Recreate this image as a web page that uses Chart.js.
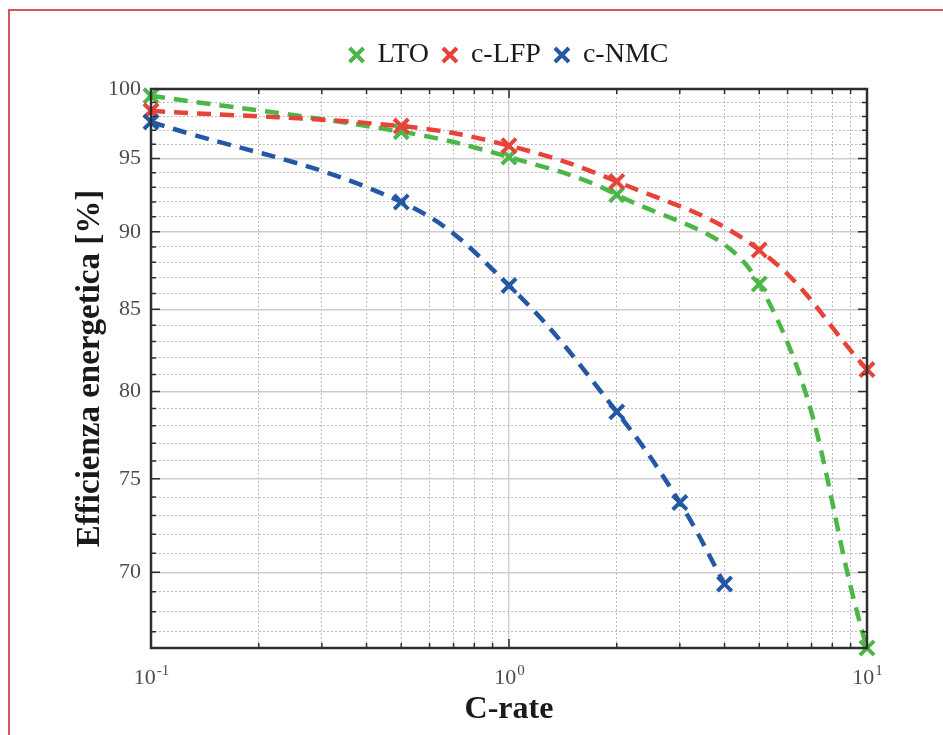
<!DOCTYPE html>
<html>
<head>
<meta charset="utf-8">
<script src="https://cdn.jsdelivr.net/npm/chart.js@4.4.1/dist/chart.umd.min.js"></script>
<style>
  html, body { margin: 0; padding: 0; background: #fff; overflow: hidden; }
  #wrap { position: relative; width: 943px; height: 735px; }
  #myChart { display: block; }
  #frame { position: absolute; left: 8px; top: 9px; width: 980px; height: 780px;
           border-top: 2px solid #d9555d; border-left: 2px solid #d9555d; pointer-events: none; }
</style>
</head>
<body>
<div id="wrap">
  <canvas id="myChart" width="943" height="735"></canvas>
  <div id="frame"></div>
</div>
<script>
// data
const cRateLTO = [0.1, 0.5, 1, 2, 5, 10];
const effLTO = [99.5, 96.9, 95.1, 92.5, 86.6, 66.2];
const cRateLFP = [0.1, 0.5, 1, 2, 5, 10];
const effLFP = [98.4, 97.3, 95.9, 93.4, 88.8, 81.3];
const cRateNMC = [0.1, 0.5, 1, 2, 3, 4];
const effNMC = [97.6, 92.0, 86.5, 78.8, 73.7, 69.4];

const seriesNames = ['LTO', 'c-LFP', 'c-NMC'];
const seriesColors = ['#4db648', '#e8433b', '#2458a6'];

// axis ticks
const xTickVals = [0.1, 0.2, 0.3, 0.4, 0.5, 0.6, 0.7, 0.8, 0.9, 1, 2, 3, 4, 5, 6, 7, 8, 9, 10];
const xMajorVals = [0.1, 1, 10];
const xLabelExp = ['-1', '0', '1'];
const yTickVals = [67, 68, 69, 70, 71, 72, 73, 74, 75, 76, 77, 78, 79, 80, 81, 82, 83, 84,
                   85, 86, 87, 88, 89, 90, 91, 92, 93, 94, 95, 96, 97, 98, 99, 100];
const yMajorVals = [70, 75, 80, 85, 90, 95, 100];
const yMin = 66.2;
const yMax = 100;

const serif = "'Liberation Serif', 'Times New Roman', serif";

function pts(xs, ys) {
    return xs.map((x, i) => ({x: x, y: ys[i]}));
}

function makeSet(i, xs, ys, order) {
    return {
        label: seriesNames[i],
        data: pts(xs, ys),
        order: order,
        borderColor: seriesColors[i],
        backgroundColor: seriesColors[i],
        borderWidth: 4.5,
        borderDash: [14, 9],
        tension: 0.4,
        fill: false,
        clip: false,
        pointStyle: 'crossRot',
        pointRadius: 10,
        pointHoverRadius: 10,
        pointBorderWidth: 4,
        pointBorderColor: seriesColors[i]
    };
}

function xTicks(scale) {
    scale.ticks = xTickVals.map(v => ({value: v, major: xMajorVals.includes(v)}));
}
function yTicks(scale) {
    scale.ticks = yTickVals.map(v => ({value: v, major: yMajorVals.includes(v)}));
}

// inward ticks, frame and the 10^n labels
const framePlugin = {
    id: 'framePlugin',
    beforeLayout(chart) {
        const lg = chart.legend;
        if (lg && !lg._extraGap) {
            const fit = lg.fit;
            lg.fit = function () { fit.call(this); this.height += 10; };
            lg._extraGap = true;
        }
    },
    afterDraw(chart) {
        const ctx = chart.ctx;
        const {left, right, top, bottom} = chart.chartArea;
        const xs = chart.scales.x;
        const ys = chart.scales.y;
        ctx.save();
        ctx.strokeStyle = '#2e2e2e';
        ctx.lineWidth = 1.5;
        ctx.beginPath();
        xTickVals.forEach(v => {
            const px = xs.getPixelForValue(v);
            const len = xMajorVals.includes(v) ? 9 : 5;
            ctx.moveTo(px, bottom); ctx.lineTo(px, bottom - len);
            ctx.moveTo(px, top); ctx.lineTo(px, top + len);
        });
        yTickVals.forEach(v => {
            const py = ys.getPixelForValue(v);
            const len = yMajorVals.includes(v) ? 9 : 5;
            ctx.moveTo(left, py); ctx.lineTo(left + len, py);
            ctx.moveTo(right, py); ctx.lineTo(right - len, py);
        });
        ctx.stroke();
        ctx.lineWidth = 2.5;
        ctx.strokeRect(left, top, right - left, bottom - top);

        ctx.fillStyle = '#4d4d4d';
        ctx.textBaseline = 'alphabetic';
        ctx.textAlign = 'left';
        xMajorVals.forEach((v, i) => {
            const px = xs.getPixelForValue(v);
            ctx.font = '22px ' + serif;
            const wb = ctx.measureText('10').width;
            ctx.font = '15px ' + serif;
            const we = ctx.measureText(xLabelExp[i]).width;
            const x0 = px - (wb + we) / 2;
            ctx.font = '22px ' + serif;
            ctx.fillText('10', x0, 684);
            ctx.font = '15px ' + serif;
            ctx.fillText(xLabelExp[i], x0 + wb + 1, 675);
        });
        ctx.restore();
    }
};

const ctx = document.getElementById('myChart').getContext('2d');
const myChart = new Chart(ctx, {
    type: 'line',
    data: {
        datasets: [
            makeSet(0, cRateLTO, effLTO, 3),
            makeSet(1, cRateLFP, effLFP, 2),
            makeSet(2, cRateNMC, effNMC, 1)
        ]
    },
    options: {
        responsive: false,
        devicePixelRatio: 1,
        animation: false,
        events: [],
        layout: { padding: { top: 27, right: 76, left: 0, bottom: 0 } },
        plugins: {
            tooltip: { enabled: false },
            legend: {
                position: 'top',
                fullSize: false,
                align: 'center',
                labels: {
                    usePointStyle: true,
                    boxWidth: 14,
                    boxHeight: 14,
                    padding: 14,
                    color: '#1a1a1a',
                    font: { family: serif, size: 28 },
                    sort: (a, b) => a.datasetIndex - b.datasetIndex
                }
            }
        },
        scales: {
            x: {
                type: 'logarithmic',
                position: 'bottom',
                min: 0.1,
                max: 10,
                afterBuildTicks: xTicks,
                afterFit: s => { s.height = 87; },
                ticks: { display: false },
                border: { display: false },
                grid: {
                    drawTicks: false,
                    lineWidth: 1.4,
                    color: c => (c.tick && c.tick.major) ? '#cdcdcd' : 'rgba(0,0,0,0)'
                },
                title: {
                    display: true,
                    text: 'C-rate',
                    color: '#1a1a1a',
                    font: { family: serif, size: 32, weight: 'bold' },
                    padding: { top: 0, bottom: 6 }
                }
            },
            xMinor: {
                type: 'logarithmic',
                position: 'bottom',
                min: 0.1,
                max: 10,
                afterBuildTicks: xTicks,
                afterFit: s => { s.height = 0; },
                ticks: { display: false },
                border: { display: false, dash: [2, 2] },
                grid: {
                    drawTicks: false,
                    lineWidth: 1,
                    color: c => (c.tick && c.tick.major) ? 'rgba(0,0,0,0)' : '#bdbdbd'
                }
            },
            y: {
                type: 'logarithmic',
                position: 'left',
                min: yMin,
                max: yMax,
                afterBuildTicks: yTicks,
                afterFit: s => { s.width = 151; },
                ticks: {
                    autoSkip: false,
                    padding: 10,
                    color: '#4d4d4d',
                    font: { family: serif, size: 22 },
                    callback: v => yMajorVals.includes(v) ? String(v) : ''
                },
                border: { display: false },
                grid: {
                    drawTicks: false,
                    lineWidth: 1.4,
                    color: c => (c.tick && c.tick.major) ? '#cdcdcd' : 'rgba(0,0,0,0)'
                },
                title: {
                    display: true,
                    text: 'Efficienza energetica [%]',
                    color: '#1a1a1a',
                    font: { family: serif, size: 33, weight: 'bold' },
                    padding: { top: 71, bottom: 0 }
                }
            },
            yMinor: {
                type: 'logarithmic',
                position: 'left',
                min: yMin,
                max: yMax,
                afterBuildTicks: yTicks,
                afterFit: s => { s.width = 0; },
                ticks: { display: false },
                border: { display: false, dash: [2, 2] },
                grid: {
                    drawTicks: false,
                    lineWidth: 1,
                    color: c => (c.tick && c.tick.major) ? 'rgba(0,0,0,0)' : '#bdbdbd'
                }
            }
        }
    },
    plugins: [framePlugin]
});
</script>
</body>
</html>
